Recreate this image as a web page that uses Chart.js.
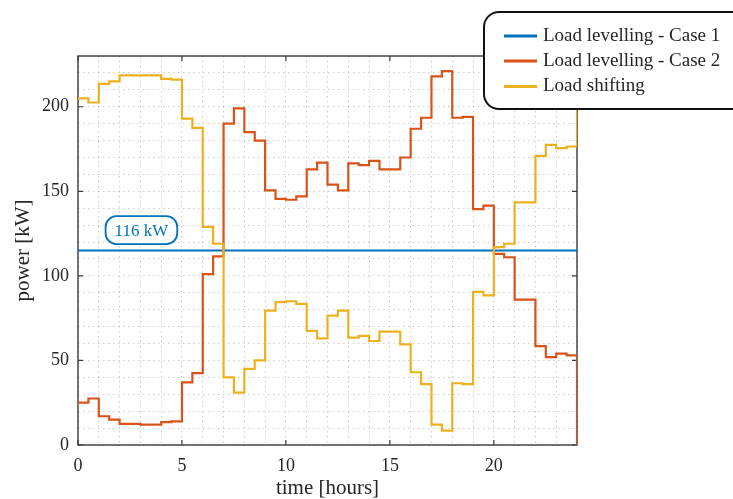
<!DOCTYPE html>
<html>
<head>
<meta charset="utf-8">
<script src="https://cdn.jsdelivr.net/npm/chart.js@4"></script>
<style>
html, body { margin: 0; padding: 0; background: #fff; }
</style>
</head>
<body>
<canvas id="chart" width="733" height="499"></canvas>
<script>
// time steps (half hour), last point closes the stairs at 24 h
var hours = [0, 0.5, 1, 1.5, 2, 2.5, 3, 3.5, 4, 4.5, 5, 5.5, 6, 6.5, 7, 7.5, 8, 8.5, 9, 9.5,
    10, 10.5, 11, 11.5, 12, 12.5, 13, 13.5, 14, 14.5, 15, 15.5, 16, 16.5, 17, 17.5, 18, 18.5, 19, 19.5,
    20, 20.5, 21, 21.5, 22, 22.5, 23, 23.5, 24];

// power [kW]
var levellingCase2 = [25, 27.5, 17, 15, 12.5, 12.5, 12, 12, 13.5, 14, 37, 42.5, 101, 111.5, 190, 199, 185, 180, 150.5, 145.5,
    145, 147, 163, 167, 154, 150.5, 166.5, 165.5, 168, 163, 163, 170, 187, 193.5, 218, 221, 193.5, 194, 139.5, 141.5,
    113, 111, 86, 86, 58.5, 52, 54, 53, 0];
var loadShifting = [205, 202.5, 213.5, 215, 218.5, 218.5, 218.5, 218.5, 216.5, 216, 193, 187.5, 129, 119, 40, 31, 45, 50, 79.5, 84.5,
    85, 83.5, 67.5, 63, 76.5, 79.5, 63.5, 64.5, 61.5, 67, 67, 59.5, 43, 36, 12, 8.5, 36.5, 36, 90.5, 88.5,
    117, 119, 143.5, 143.5, 171, 177.5, 175.5, 176.5, 205];
var case1Hours = [0, 24];
var levellingCase1 = [115, 115];

var seriesLabels = ['Load levelling - Case 1', 'Load levelling - Case 2', 'Load shifting'];
var seriesColors = ['#0072BD', '#D95319', '#EDB120'];
var levelLabel = '116 kW';

var xTicks = [0, 5, 10, 15, 20];
var yTicks = [0, 50, 100, 150, 200];

var serif = "'Liberation Serif', 'Times New Roman', serif";

function toPoints(xs, ys) {
    return xs.map(function (x, i) { return { x: x, y: ys[i] }; });
}

function roundRectPath(ctx, x, y, w, h, r) {
    ctx.beginPath();
    ctx.moveTo(x + r, y);
    ctx.lineTo(x + w - r, y);
    ctx.arc(x + w - r, y + r, r, -Math.PI / 2, 0);
    ctx.lineTo(x + w, y + h - r);
    ctx.arc(x + w - r, y + h - r, r, 0, Math.PI / 2);
    ctx.lineTo(x + r, y + h);
    ctx.arc(x + r, y + h - r, r, Math.PI / 2, Math.PI);
    ctx.lineTo(x, y + r);
    ctx.arc(x + r, y + r, r, Math.PI, Math.PI * 1.5);
    ctx.closePath();
}

// axes box + inward ticks, under the lines
var axesBox = {
    id: 'axesBox',
    beforeDatasetsDraw: function (chart) {
        var ctx = chart.ctx;
        var a = chart.chartArea;
        var xs = chart.scales.x, ys = chart.scales.y;
        ctx.save();
        ctx.strokeStyle = '#3a3a3a';
        ctx.lineWidth = 1.4;
        ctx.strokeRect(a.left, a.top, a.right - a.left, a.bottom - a.top);

        ctx.lineWidth = 1.2;
        ctx.beginPath();
        xTicks.forEach(function (t) {
            var px = xs.getPixelForValue(t);
            ctx.moveTo(px, a.bottom); ctx.lineTo(px, a.bottom - 5);
            ctx.moveTo(px, a.top); ctx.lineTo(px, a.top + 5);
        });
        yTicks.forEach(function (t) {
            var py = ys.getPixelForValue(t);
            ctx.moveTo(a.left, py); ctx.lineTo(a.left + 5, py);
            ctx.moveTo(a.right, py); ctx.lineTo(a.right - 5, py);
        });
        ctx.stroke();
        ctx.restore();
    }
};

// level label and legend, on top
var decorations = {
    id: 'decorations',
    afterDraw: function (chart) {
        var ctx = chart.ctx;
        var xs = chart.scales.x, ys = chart.scales.y;
        ctx.save();

        var lx = xs.getPixelForValue(3.05), ly = ys.getPixelForValue(127);
        ctx.font = '17px ' + serif;
        var tw = ctx.measureText(levelLabel).width;
        roundRectPath(ctx, lx - tw / 2 - 9, ly - 14, tw + 18, 28, 11);
        ctx.fillStyle = '#fff';
        ctx.fill();
        ctx.lineWidth = 1.8;
        ctx.strokeStyle = seriesColors[0];
        ctx.stroke();
        ctx.fillStyle = seriesColors[0];
        ctx.textAlign = 'center';
        ctx.textBaseline = 'middle';
        ctx.fillText(levelLabel, lx, ly + 1);

        roundRectPath(ctx, 484, 12, 290, 97, 15);
        ctx.fillStyle = '#fff';
        ctx.fill();
        ctx.lineWidth = 2;
        ctx.strokeStyle = '#111';
        ctx.stroke();
        var rows = [36, 61, 86.5];
        ctx.font = '19px ' + serif;
        ctx.textAlign = 'left';
        ctx.textBaseline = 'middle';
        seriesLabels.forEach(function (lab, i) {
            ctx.strokeStyle = seriesColors[i];
            ctx.lineWidth = 3;
            ctx.beginPath();
            ctx.moveTo(504, rows[i]);
            ctx.lineTo(537, rows[i]);
            ctx.stroke();
            ctx.fillStyle = '#262626';
            ctx.fillText(lab, 543, rows[i]);
        });
        ctx.restore();
    }
};

var ctx = document.getElementById('chart').getContext('2d');
var myChart = new Chart(ctx, {
    type: 'line',
    data: {
        datasets: [{
            label: seriesLabels[0],
            data: toPoints(case1Hours, levellingCase1),
            borderColor: seriesColors[0],
            order: 2
        }, {
            label: seriesLabels[1],
            data: toPoints(hours, levellingCase2),
            borderColor: seriesColors[1],
            stepped: true,
            order: 1
        }, {
            label: seriesLabels[2],
            data: toPoints(hours, loadShifting),
            borderColor: seriesColors[2],
            stepped: true,
            order: 0
        }]
    },
    options: {
        responsive: false,
        devicePixelRatio: 1,
        animation: false,
        layout: { padding: { left: 0, right: 156, top: 56, bottom: 0 } },
        elements: {
            point: { radius: 0 },
            line: { borderWidth: 2.2, fill: false, tension: 0 }
        },
        plugins: {
            legend: { display: false },
            tooltip: { enabled: false }
        },
        scales: {
            x: {
                type: 'linear',
                min: 0,
                max: 24,
                afterFit: function (scale) { scale.height = 54; },
                ticks: {
                    stepSize: 1,
                    autoSkip: false,
                    maxRotation: 0,
                    padding: 10,
                    color: '#262626',
                    font: { family: serif, size: 18 },
                    callback: function (v) { return v % 5 === 0 && v < 24 ? v : ''; }
                },
                grid: { color: 'rgba(0,0,0,0.2)', lineWidth: 1, drawTicks: false },
                border: { display: false, dash: [1.5, 3.5] },
                title: {
                    display: true,
                    text: 'time [hours]',
                    color: '#262626',
                    font: { family: serif, size: 21, lineHeight: 1 },
                    padding: { top: 0, bottom: 0 }
                }
            },
            y: {
                min: 0,
                max: 230,
                afterFit: function (scale) { scale.width = 78; },
                ticks: {
                    stepSize: 10,
                    autoSkip: false,
                    padding: 9,
                    color: '#262626',
                    font: { family: serif, size: 18 },
                    callback: function (v) { return v % 50 === 0 ? v : ''; }
                },
                grid: { color: 'rgba(0,0,0,0.2)', lineWidth: 1, drawTicks: false },
                border: { display: false, dash: [1.5, 3.5] },
                title: {
                    display: true,
                    text: 'power [kW]',
                    color: '#262626',
                    font: { family: serif, size: 21, lineHeight: 1 },
                    padding: { top: 12.5, bottom: 0 }
                }
            }
        }
    },
    plugins: [axesBox, decorations]
});
</script>
</body>
</html>
